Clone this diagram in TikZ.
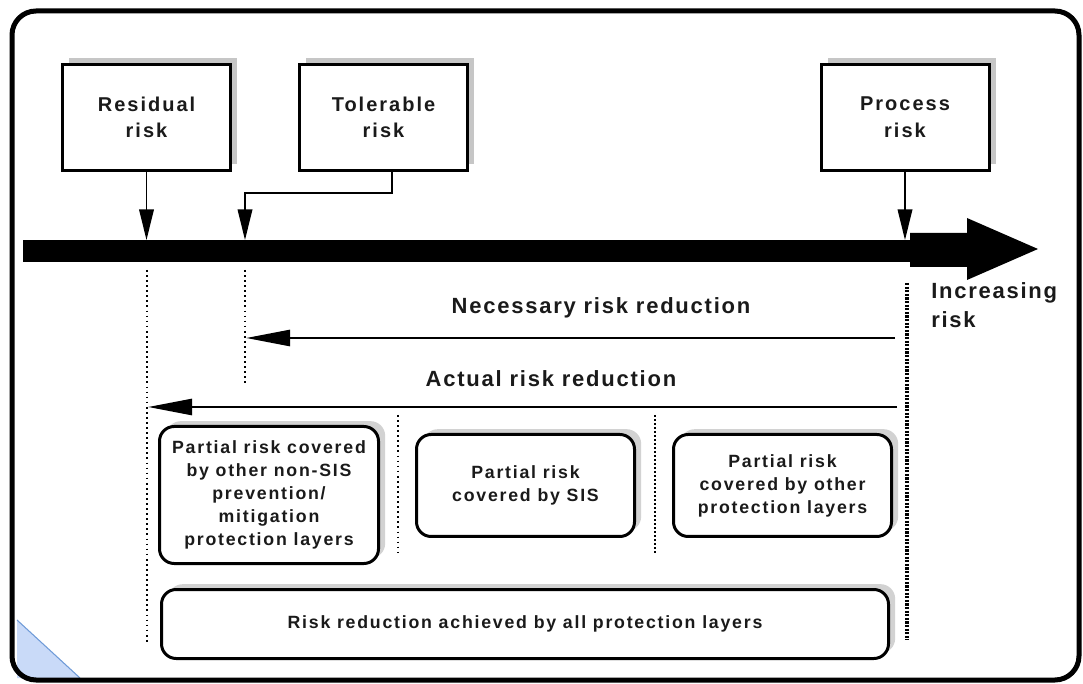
\documentclass[tikz,border=0pt]{standalone}
\usepackage{fontspec}
\setmainfont{Liberation Sans}
\newfontfamily\lblfont[LetterSpace=10]{Liberation Sans}
\newfontfamily\biglblfont[LetterSpace=8]{Liberation Sans}
\usetikzlibrary{arrows.meta,shadows}
\definecolor{triblue}{HTML}{C9DAF8}
\definecolor{triedge}{HTML}{6F9BD8}
\definecolor{txt}{HTML}{1A1A1A}
\begin{document}
\begin{tikzpicture}[x=0.75pt,y=-0.75pt,
  bigfont/.style={font=\lblfont\bfseries\fontsize{15pt}{20pt}\selectfont,text=txt},
  labelfont/.style={font=\biglblfont\bfseries\fontsize{16.5pt}{22pt}\selectfont,text=txt},
  smallfont/.style={font=\lblfont\bfseries\fontsize{13.3pt}{17.2pt}\selectfont,text=txt},
  topbox/.style={draw,line width=2.25pt,minimum width=126pt,minimum height=79.5pt,inner sep=0pt,
    align=center,fill=white,bigfont,
    drop shadow={shadow xshift=5pt,shadow yshift=4.5pt,fill=gray!45,opacity=1}},
  rbox/.style={draw,line width=2.25pt,rounded corners=11pt,inner sep=0pt,align=center,fill=white,smallfont,
    drop shadow={shadow xshift=5pt,shadow yshift=4pt,fill=gray!35,opacity=1}},
  thinarrow/.style={line width=1.1pt,-{Triangle[length=23pt,width=11pt]}},
  bigarrow/.style={line width=2pt,-{Triangle[length=33pt,width=12pt]}},
  dotA/.style={line width=1.4pt,dash pattern=on 1.3pt off 2.5pt},
  dotB/.style={line width=2.6pt,dash pattern=on 1.6pt off 1.1pt},
  dotC/.style={line width=2pt,dash pattern=on 1.5pt off 1.5pt},
  lbl/.style={labelfont,inner sep=0pt}
]
\useasboundingbox (0,0) rectangle (1083,684);
% corner triangle
\fill[triblue] (17,620) -- (17,678) -- (80,678) -- cycle;
\draw[triedge,line width=0.8pt] (17,620) -- (80,678);
% frame
\draw[line width=3.75pt,rounded corners=18pt] (12,11) rectangle (1079,680);

% top boxes
\node[topbox] (res) at (146.5,117.5) {Residual\\risk};
\node[topbox] (tol) at (383.5,117.5) {Tolerable\\risk};
\node[topbox] (proc) at (905,117.5) {Process\\risk};

% thick bar with arrow head
\fill (23,240) rectangle (912,262);
\fill (910,233) -- (967,233) -- (967,218) -- (1038,249) -- (967,280) -- (967,267) -- (910,267) -- cycle;

\coordinate (resb) at (146.5,240);
\coordinate (tolb) at (245,240);
\coordinate (procb) at (905,240);
\draw[thinarrow] (res.south) -- (resb);
\draw[thinarrow] (392,0 |- tol.south) -- (392,193) -- (245,193) -- (tolb);
\draw[thinarrow] (proc.south) -- (procb);

\node[labelfont,align=left,anchor=west,inner sep=0pt] (inc) at (931,305) {Increasing\\risk};

% dotted guides
\draw[dotA] (147,270) -- (147,644);
\draw[dotA] (245,270) -- (245,386);
\draw[dotB] (907,283) -- (907,640);
\draw[dotA] (398,415) -- (398,553);
\draw[dotC] (655,415) -- (655,553);

% reduction arrows
\node[lbl] (nec) at (601,308) {Necessary risk reduction};
\node[lbl] (act) at (551,379) {Actual risk reduction};
\coordinate (necR) at (895,338);
\coordinate (necL) at (246,338);
\coordinate (actR) at (897,407);
\coordinate (actL) at (148,407);
\draw[bigarrow] (necR) -- (necL);
\draw[bigarrow] (actR) -- (actL);

% partial risk boxes
\node[rbox,minimum width=164.25pt,minimum height=102.75pt] (b1) at (269,495)
  {Partial risk covered\\by other non-SIS\\prevention/\\mitigation\\protection layers};
\node[rbox,minimum width=163.5pt,minimum height=76.5pt] (b2) at (525.5,485.5)
  {Partial risk\\covered by SIS};
\node[rbox,minimum width=163.5pt,minimum height=76.5pt] (b3) at (782.5,485.5)
  {Partial risk\\covered by other\\protection layers};
\node[rbox,minimum width=545.25pt,minimum height=51.75pt] (b4) at (525,624)
  {Risk reduction achieved by all protection layers};
\end{tikzpicture}
\end{document}
